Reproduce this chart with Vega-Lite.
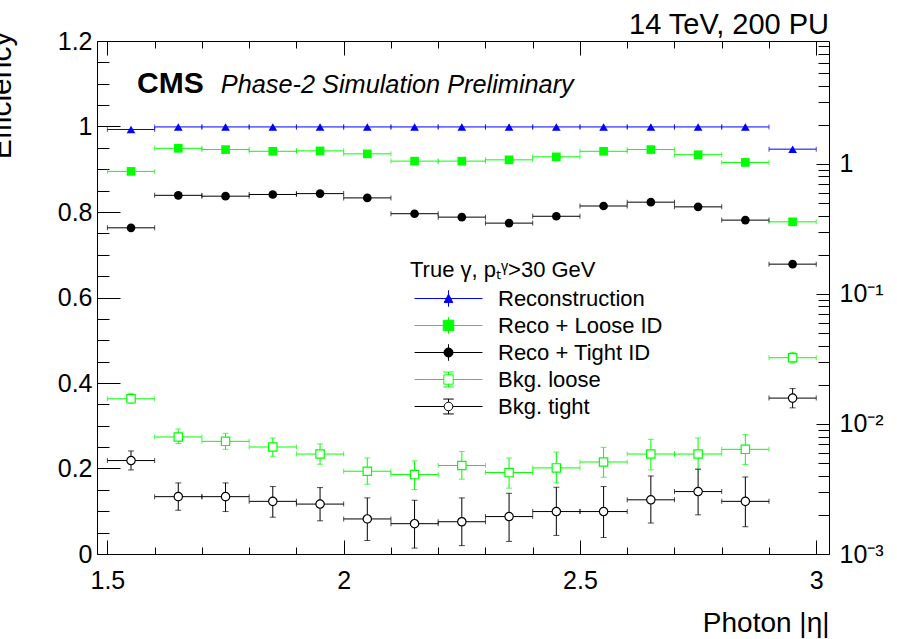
{
  "$schema": "https://vega.github.io/schema/vega-lite/v6.json",
  "width": 732,
  "height": 513,
  "autosize": {"type": "none"},
  "padding": {"left": 97, "top": 41, "right": 68, "bottom": 85},
  "background": "white",
  "config": {
    "font": "Liberation Sans",
    "view": {"stroke": "black", "strokeWidth": 1},
    "axis": {"grid": false, "domain": false, "tickColor": "black", "labelColor": "black", "titleColor": "black", "labelFont": "Liberation Sans", "titleFont": "Liberation Sans", "tickWidth": 1, "labelFlush": false, "labelOverlap": false},
    "legend": {"labelFont": "Liberation Sans", "titleFont": "Liberation Sans", "labelColor": "black", "titleColor": "black"}
  },
  "datasets": {
    "d": [
      {"s": "Reconstruction", "eta": 1.55, "x0": 1.5, "x1": 1.6, "v": 0.993},
      {"s": "Reconstruction", "eta": 1.65, "x0": 1.6, "x1": 1.7, "v": 0.999},
      {"s": "Reconstruction", "eta": 1.75, "x0": 1.7, "x1": 1.8, "v": 0.999},
      {"s": "Reconstruction", "eta": 1.85, "x0": 1.8, "x1": 1.9, "v": 0.999},
      {"s": "Reconstruction", "eta": 1.95, "x0": 1.9, "x1": 2.0, "v": 0.999},
      {"s": "Reconstruction", "eta": 2.05, "x0": 2.0, "x1": 2.1, "v": 0.999},
      {"s": "Reconstruction", "eta": 2.15, "x0": 2.1, "x1": 2.2, "v": 0.999},
      {"s": "Reconstruction", "eta": 2.25, "x0": 2.2, "x1": 2.3, "v": 0.999},
      {"s": "Reconstruction", "eta": 2.35, "x0": 2.3, "x1": 2.4, "v": 0.999},
      {"s": "Reconstruction", "eta": 2.45, "x0": 2.4, "x1": 2.5, "v": 0.999},
      {"s": "Reconstruction", "eta": 2.55, "x0": 2.5, "x1": 2.6, "v": 0.999},
      {"s": "Reconstruction", "eta": 2.65, "x0": 2.6, "x1": 2.7, "v": 0.999},
      {"s": "Reconstruction", "eta": 2.75, "x0": 2.7, "x1": 2.8, "v": 0.999},
      {"s": "Reconstruction", "eta": 2.85, "x0": 2.8, "x1": 2.9, "v": 0.999},
      {"s": "Reconstruction", "eta": 2.95, "x0": 2.9, "x1": 3.0, "v": 0.947},
      {"s": "Reco + Loose ID", "eta": 1.55, "x0": 1.5, "x1": 1.6, "v": 0.895},
      {"s": "Reco + Loose ID", "eta": 1.65, "x0": 1.6, "x1": 1.7, "v": 0.949},
      {"s": "Reco + Loose ID", "eta": 1.75, "x0": 1.7, "x1": 1.8, "v": 0.946},
      {"s": "Reco + Loose ID", "eta": 1.85, "x0": 1.8, "x1": 1.9, "v": 0.942},
      {"s": "Reco + Loose ID", "eta": 1.95, "x0": 1.9, "x1": 2.0, "v": 0.943},
      {"s": "Reco + Loose ID", "eta": 2.05, "x0": 2.0, "x1": 2.1, "v": 0.936},
      {"s": "Reco + Loose ID", "eta": 2.15, "x0": 2.1, "x1": 2.2, "v": 0.919},
      {"s": "Reco + Loose ID", "eta": 2.25, "x0": 2.2, "x1": 2.3, "v": 0.919},
      {"s": "Reco + Loose ID", "eta": 2.35, "x0": 2.3, "x1": 2.4, "v": 0.922},
      {"s": "Reco + Loose ID", "eta": 2.45, "x0": 2.4, "x1": 2.5, "v": 0.929},
      {"s": "Reco + Loose ID", "eta": 2.55, "x0": 2.5, "x1": 2.6, "v": 0.942},
      {"s": "Reco + Loose ID", "eta": 2.65, "x0": 2.6, "x1": 2.7, "v": 0.946},
      {"s": "Reco + Loose ID", "eta": 2.75, "x0": 2.7, "x1": 2.8, "v": 0.934},
      {"s": "Reco + Loose ID", "eta": 2.85, "x0": 2.8, "x1": 2.9, "v": 0.916},
      {"s": "Reco + Loose ID", "eta": 2.95, "x0": 2.9, "x1": 3.0, "v": 0.777},
      {"s": "Reco + Tight ID", "eta": 1.55, "x0": 1.5, "x1": 1.6, "v": 0.763},
      {"s": "Reco + Tight ID", "eta": 1.65, "x0": 1.6, "x1": 1.7, "v": 0.839},
      {"s": "Reco + Tight ID", "eta": 1.75, "x0": 1.7, "x1": 1.8, "v": 0.837},
      {"s": "Reco + Tight ID", "eta": 1.85, "x0": 1.8, "x1": 1.9, "v": 0.841},
      {"s": "Reco + Tight ID", "eta": 1.95, "x0": 1.9, "x1": 2.0, "v": 0.843},
      {"s": "Reco + Tight ID", "eta": 2.05, "x0": 2.0, "x1": 2.1, "v": 0.833},
      {"s": "Reco + Tight ID", "eta": 2.15, "x0": 2.1, "x1": 2.2, "v": 0.796},
      {"s": "Reco + Tight ID", "eta": 2.25, "x0": 2.2, "x1": 2.3, "v": 0.788},
      {"s": "Reco + Tight ID", "eta": 2.35, "x0": 2.3, "x1": 2.4, "v": 0.774},
      {"s": "Reco + Tight ID", "eta": 2.45, "x0": 2.4, "x1": 2.5, "v": 0.790},
      {"s": "Reco + Tight ID", "eta": 2.55, "x0": 2.5, "x1": 2.6, "v": 0.814},
      {"s": "Reco + Tight ID", "eta": 2.65, "x0": 2.6, "x1": 2.7, "v": 0.823},
      {"s": "Reco + Tight ID", "eta": 2.75, "x0": 2.7, "x1": 2.8, "v": 0.812},
      {"s": "Reco + Tight ID", "eta": 2.85, "x0": 2.8, "x1": 2.9, "v": 0.781},
      {"s": "Reco + Tight ID", "eta": 2.95, "x0": 2.9, "x1": 3.0, "v": 0.678},
      {"s": "Bkg. loose", "eta": 1.55, "x0": 1.5, "x1": 1.6, "v": 0.0156, "lo": 0.0144, "hi": 0.0172},
      {"s": "Bkg. loose", "eta": 1.65, "x0": 1.6, "x1": 1.7, "v": 0.00794, "lo": 0.00706, "hi": 0.00914},
      {"s": "Bkg. loose", "eta": 1.75, "x0": 1.7, "x1": 1.8, "v": 0.00735, "lo": 0.00638, "hi": 0.00847},
      {"s": "Bkg. loose", "eta": 1.85, "x0": 1.8, "x1": 1.9, "v": 0.00665, "lo": 0.00564, "hi": 0.0078},
      {"s": "Bkg. loose", "eta": 1.95, "x0": 1.9, "x1": 2.0, "v": 0.00587, "lo": 0.0049, "hi": 0.00701},
      {"s": "Bkg. loose", "eta": 2.05, "x0": 2.0, "x1": 2.1, "v": 0.00433, "lo": 0.00344, "hi": 0.00547},
      {"s": "Bkg. loose", "eta": 2.15, "x0": 2.1, "x1": 2.2, "v": 0.00408, "lo": 0.00313, "hi": 0.0052},
      {"s": "Bkg. loose", "eta": 2.25, "x0": 2.2, "x1": 2.3, "v": 0.00479, "lo": 0.00376, "hi": 0.00613},
      {"s": "Bkg. loose", "eta": 2.35, "x0": 2.3, "x1": 2.4, "v": 0.00423, "lo": 0.00321, "hi": 0.00547},
      {"s": "Bkg. loose", "eta": 2.45, "x0": 2.4, "x1": 2.5, "v": 0.00459, "lo": 0.00352, "hi": 0.00608},
      {"s": "Bkg. loose", "eta": 2.55, "x0": 2.5, "x1": 2.6, "v": 0.0051, "lo": 0.00389, "hi": 0.00661},
      {"s": "Bkg. loose", "eta": 2.65, "x0": 2.6, "x1": 2.7, "v": 0.00587, "lo": 0.00443, "hi": 0.00762},
      {"s": "Bkg. loose", "eta": 2.75, "x0": 2.7, "x1": 2.8, "v": 0.00587, "lo": 0.00449, "hi": 0.0078},
      {"s": "Bkg. loose", "eta": 2.85, "x0": 2.8, "x1": 2.9, "v": 0.00638, "lo": 0.00488, "hi": 0.00828},
      {"s": "Bkg. loose", "eta": 2.95, "x0": 2.9, "x1": 3.0, "v": 0.0323, "lo": 0.0296, "hi": 0.0355},
      {"s": "Bkg. tight", "eta": 1.55, "x0": 1.5, "x1": 1.6, "v": 0.00523, "lo": 0.00443, "hi": 0.0062},
      {"s": "Bkg. tight", "eta": 1.65, "x0": 1.6, "x1": 1.7, "v": 0.00276, "lo": 0.00217, "hi": 0.00352},
      {"s": "Bkg. tight", "eta": 1.75, "x0": 1.7, "x1": 1.8, "v": 0.00276, "lo": 0.00212, "hi": 0.00352},
      {"s": "Bkg. tight", "eta": 1.85, "x0": 1.8, "x1": 1.9, "v": 0.00254, "lo": 0.00192, "hi": 0.0033},
      {"s": "Bkg. tight", "eta": 1.95, "x0": 1.9, "x1": 2.0, "v": 0.00242, "lo": 0.0018, "hi": 0.00324},
      {"s": "Bkg. tight", "eta": 2.05, "x0": 2.0, "x1": 2.1, "v": 0.00186, "lo": 0.00127, "hi": 0.0027},
      {"s": "Bkg. tight", "eta": 2.15, "x0": 2.1, "x1": 2.2, "v": 0.00171, "lo": 0.00111, "hi": 0.00259},
      {"s": "Bkg. tight", "eta": 2.25, "x0": 2.2, "x1": 2.3, "v": 0.00177, "lo": 0.00116, "hi": 0.0027},
      {"s": "Bkg. tight", "eta": 2.35, "x0": 2.3, "x1": 2.4, "v": 0.00194, "lo": 0.00125, "hi": 0.00293},
      {"s": "Bkg. tight", "eta": 2.45, "x0": 2.4, "x1": 2.5, "v": 0.00212, "lo": 0.00139, "hi": 0.00326},
      {"s": "Bkg. tight", "eta": 2.55, "x0": 2.5, "x1": 2.6, "v": 0.00212, "lo": 0.00134, "hi": 0.0033},
      {"s": "Bkg. tight", "eta": 2.65, "x0": 2.6, "x1": 2.7, "v": 0.00261, "lo": 0.00173, "hi": 0.00398},
      {"s": "Bkg. tight", "eta": 2.75, "x0": 2.7, "x1": 2.8, "v": 0.00302, "lo": 0.002, "hi": 0.00449},
      {"s": "Bkg. tight", "eta": 2.85, "x0": 2.8, "x1": 2.9, "v": 0.00254, "lo": 0.00162, "hi": 0.00391},
      {"s": "Bkg. tight", "eta": 2.95, "x0": 2.9, "x1": 3.0, "v": 0.0158, "lo": 0.0133, "hi": 0.0187}
    ]
  },
  "data": {"name": "d"},
  "resolve": {
    "scale": {"y": "independent"},
    "axis": {"x": "independent", "y": "independent"}
  },
  "layer": [
    {
      "transform": [{"filter": {"field": "s", "oneOf": ["Reconstruction", "Reco + Loose ID", "Reco + Tight ID"]}}],
      "mark": {"type": "rule", "strokeWidth": 1},
      "encoding": {
        "x": {"field": "x0", "type": "quantitative", "scale": {"domain": [1.478, 3.027], "nice": false, "zero": false},
          "axis": {"orient": "bottom", "values": [1.5, 2, 2.5, 3], "format": "~g", "tickSize": -14, "labelPadding": 28, "labelFontSize": 25, "title": "Photon |η|", "titleX": 732, "titleY": 77, "titleAlign": "right", "titleBaseline": "alphabetic", "titleFontSize": 28, "titleFontWeight": "normal"}},
        "x2": {"field": "x1"},
        "y": {"field": "v", "type": "quantitative", "scale": {"domain": [0, 1.2], "nice": false, "zero": false},
          "axis": {"orient": "left", "values": [0, 0.2, 0.4, 0.6, 0.8, 1, 1.2], "format": "~g", "tickSize": -23, "labelPadding": 28, "labelFontSize": 25, "title": "Efficiency", "titleX": -87, "titleY": -10, "titleAngle": 270, "titleAlign": "right", "titleBaseline": "alphabetic", "titleFontSize": 30, "titleFontWeight": "normal"}},
        "color": {"field": "s", "type": "nominal", "legend": null,
          "scale": {"domain": ["Reco + Loose ID", "Bkg. loose", "Reconstruction", "Reco + Tight ID", "Bkg. tight"], "range": ["#00ff00", "#00ff00", "#0000ff", "#000000", "#000000"]}}
      }
    },
    {
      "transform": [
        {"filter": {"field": "s", "oneOf": ["Reconstruction", "Reco + Loose ID", "Reco + Tight ID"]}},
        {"fold": ["x0", "x1"], "as": ["k", "xe"]}
      ],
      "mark": {"type": "tick", "orient": "vertical", "size": 5, "thickness": 1},
      "encoding": {
        "x": {"field": "xe", "type": "quantitative", "scale": {"domain": [1.478, 3.027], "nice": false, "zero": false}, "axis": null},
        "y": {"field": "v", "type": "quantitative", "scale": {"domain": [0, 1.2], "nice": false, "zero": false}, "axis": null},
        "color": {"field": "s", "type": "nominal", "legend": null}
      }
    },
    {
      "transform": [{"filter": {"field": "s", "equal": "Reconstruction"}}],
      "mark": {"type": "point", "shape": "triangle-up", "filled": true, "size": 75, "opacity": 1},
      "encoding": {
        "x": {"field": "eta", "type": "quantitative", "scale": {"domain": [1.478, 3.027], "nice": false, "zero": false},
          "axis": {"orient": "bottom", "values": [1.6, 1.7, 1.8, 1.9, 2.1, 2.2, 2.3, 2.4, 2.6, 2.7, 2.8, 2.9], "tickSize": -7, "labels": false, "title": null}},
        "y": {"field": "v", "type": "quantitative", "scale": {"domain": [0, 1.2], "nice": false, "zero": false},
          "axis": {"orient": "left", "values": [0.05, 0.1, 0.15, 0.25, 0.3, 0.35, 0.45, 0.5, 0.55, 0.65, 0.7, 0.75, 0.85, 0.9, 0.95, 1.05, 1.1, 1.15], "tickSize": -12, "labels": false, "title": null}},
        "color": {"field": "s", "type": "nominal", "legend": null}
      }
    },
    {
      "transform": [{"filter": {"field": "s", "equal": "Reco + Loose ID"}}],
      "mark": {"type": "point", "shape": "square", "filled": true, "size": 75, "opacity": 1},
      "encoding": {
        "x": {"field": "eta", "type": "quantitative", "scale": {"domain": [1.478, 3.027], "nice": false, "zero": false}, "axis": null},
        "y": {"field": "v", "type": "quantitative", "scale": {"domain": [0, 1.2], "nice": false, "zero": false}, "axis": null},
        "color": {"field": "s", "type": "nominal", "legend": null}
      }
    },
    {
      "transform": [{"filter": {"field": "s", "equal": "Reco + Tight ID"}}],
      "mark": {"type": "point", "shape": "circle", "filled": true, "size": 75, "opacity": 1},
      "encoding": {
        "x": {"field": "eta", "type": "quantitative", "scale": {"domain": [1.478, 3.027], "nice": false, "zero": false}, "axis": null},
        "y": {"field": "v", "type": "quantitative", "scale": {"domain": [0, 1.2], "nice": false, "zero": false}, "axis": null},
        "color": {"field": "s", "type": "nominal", "legend": null}
      }
    },
    {
      "transform": [{"filter": {"field": "s", "oneOf": ["Bkg. loose", "Bkg. tight"]}}],
      "mark": {"type": "rule", "strokeWidth": 1},
      "encoding": {
        "x": {"field": "x0", "type": "quantitative", "scale": {"domain": [1.478, 3.027], "nice": false, "zero": false},
          "axis": {"orient": "top", "values": [1.5, 2, 2.5, 3], "tickSize": -14, "labels": false, "title": null}},
        "x2": {"field": "x1"},
        "y": {"field": "v", "type": "quantitative", "scale": {"type": "log", "domain": [0.001, 8.8], "nice": false},
          "axis": {"orient": "right", "values": [0.001, 0.01, 0.1, 1], "tickSize": -13, "labelPadding": 23, "labelFontSize": 25, "labelAlign": "left", "labelBaseline": "middle", "title": null,
            "labelExpr": "datum.value > 0.5 ? '1' : datum.value > 0.05 ? '10⁻¹' : datum.value > 0.005 ? '10⁻²' : '10⁻³'"}},
        "color": {"field": "s", "type": "nominal", "legend": null}
      }
    },
    {
      "transform": [{"filter": {"field": "s", "oneOf": ["Bkg. loose", "Bkg. tight"]}}],
      "mark": {"type": "rule", "strokeWidth": 1},
      "encoding": {
        "x": {"field": "eta", "type": "quantitative", "scale": {"domain": [1.478, 3.027], "nice": false, "zero": false}, "axis": null},
        "y": {"field": "lo", "type": "quantitative", "scale": {"type": "log", "domain": [0.001, 8.8], "nice": false}, "axis": null},
        "y2": {"field": "hi"},
        "color": {"field": "s", "type": "nominal", "legend": null}
      }
    },
    {
      "transform": [
        {"filter": {"field": "s", "oneOf": ["Bkg. loose", "Bkg. tight"]}},
        {"fold": ["x0", "x1"], "as": ["k", "xe"]}
      ],
      "mark": {"type": "tick", "orient": "vertical", "size": 5, "thickness": 1},
      "encoding": {
        "x": {"field": "xe", "type": "quantitative", "scale": {"domain": [1.478, 3.027], "nice": false, "zero": false}, "axis": null},
        "y": {"field": "v", "type": "quantitative", "scale": {"type": "log", "domain": [0.001, 8.8], "nice": false}, "axis": null},
        "color": {"field": "s", "type": "nominal", "legend": null}
      }
    },
    {
      "transform": [
        {"filter": {"field": "s", "oneOf": ["Bkg. loose", "Bkg. tight"]}},
        {"fold": ["lo", "hi"], "as": ["k", "ye"]}
      ],
      "mark": {"type": "tick", "orient": "horizontal", "size": 6, "thickness": 1},
      "encoding": {
        "x": {"field": "eta", "type": "quantitative", "scale": {"domain": [1.478, 3.027], "nice": false, "zero": false}, "axis": null},
        "y": {"field": "ye", "type": "quantitative", "scale": {"type": "log", "domain": [0.001, 8.8], "nice": false}, "axis": null},
        "color": {"field": "s", "type": "nominal", "legend": null}
      }
    },
    {
      "transform": [{"filter": {"field": "s", "equal": "Bkg. loose"}}],
      "mark": {"type": "point", "shape": "square", "filled": false, "fill": "white", "fillOpacity": 1, "opacity": 1, "size": 70, "strokeWidth": 1.2},
      "encoding": {
        "x": {"field": "eta", "type": "quantitative", "scale": {"domain": [1.478, 3.027], "nice": false, "zero": false},
          "axis": {"orient": "top", "values": [1.6, 1.7, 1.8, 1.9, 2.1, 2.2, 2.3, 2.4, 2.6, 2.7, 2.8, 2.9], "tickSize": -7, "labels": false, "title": null}},
        "y": {"field": "v", "type": "quantitative", "scale": {"type": "log", "domain": [0.001, 8.8], "nice": false},
          "axis": {"orient": "right", "values": [0.002, 0.003, 0.004, 0.005, 0.006, 0.007, 0.008, 0.009, 0.02, 0.03, 0.04, 0.05, 0.06, 0.07, 0.08, 0.09, 0.2, 0.3, 0.4, 0.5, 0.6, 0.7, 0.8, 0.9, 2, 3, 4, 5, 6, 7, 8], "tickSize": -11, "labels": false, "title": null}},
        "color": {"field": "s", "type": "nominal", "legend": null}
      }
    },
    {
      "transform": [{"filter": {"field": "s", "equal": "Bkg. tight"}}],
      "mark": {"type": "point", "shape": "circle", "filled": false, "fill": "white", "fillOpacity": 1, "opacity": 1, "size": 70, "strokeWidth": 1.2},
      "encoding": {
        "x": {"field": "eta", "type": "quantitative", "scale": {"domain": [1.478, 3.027], "nice": false, "zero": false}, "axis": null},
        "y": {"field": "v", "type": "quantitative", "scale": {"type": "log", "domain": [0.001, 8.8], "nice": false}, "axis": null},
        "color": {"field": "s", "type": "nominal", "legend": null}
      }
    },
    {
      "data": {"values": [{}]},
      "mark": {"type": "text", "text": "CMS", "font": "Liberation Sans", "fontWeight": "bold", "fontSize": 30, "align": "left", "baseline": "alphabetic", "color": "black"},
      "encoding": {
        "x": {"datum": 1.5628, "type": "quantitative", "scale": {"domain": [1.478, 3.027], "nice": false, "zero": false}, "axis": null},
        "y": {"datum": 1.079, "type": "quantitative", "scale": {"domain": [0, 1.2], "nice": false, "zero": false}, "axis": null}
      }
    },
    {
      "data": {"values": [{}]},
      "mark": {"type": "text", "text": "Phase-2 Simulation Preliminary", "font": "Liberation Sans", "fontStyle": "italic", "fontSize": 25.3, "align": "left", "baseline": "alphabetic", "color": "black"},
      "encoding": {
        "x": {"datum": 1.740, "type": "quantitative", "scale": {"domain": [1.478, 3.027], "nice": false, "zero": false}, "axis": null},
        "y": {"datum": 1.079, "type": "quantitative", "scale": {"domain": [0, 1.2], "nice": false, "zero": false}, "axis": null}
      }
    },
    {
      "data": {"values": [{}]},
      "mark": {"type": "text", "text": "14 TeV, 200 PU", "font": "Liberation Sans", "fontSize": 29, "align": "right", "baseline": "alphabetic", "color": "black"},
      "encoding": {
        "x": {"datum": 3.027, "type": "quantitative", "scale": {"domain": [1.478, 3.027], "nice": false, "zero": false}, "axis": null},
        "y": {"datum": 1.2164, "type": "quantitative", "scale": {"domain": [0, 1.2], "nice": false, "zero": false}, "axis": null}
      }
    },
    {
      "transform": [{"filter": "false"}],
      "mark": {"type": "point", "filled": false, "size": 576, "strokeWidth": 1, "opacity": 1},
      "encoding": {
        "shape": {"field": "s", "type": "nominal", "title": "True γ, pₜᵞ>30 GeV",
          "scale": {"domain": ["Reconstruction", "Reco + Loose ID", "Reco + Tight ID", "Bkg. loose", "Bkg. tight"],
            "range": [
              "M-2.83,0H2.83M0,-0.69V0.69M0,-0.36L0.36,0.34H-0.36Z",
              "M-2.83,0H2.83M0,-0.69V0.69M-0.44,-0.44H0.44V0.44H-0.44Z",
              "M-2.83,0H2.83M0,-0.69V0.69M-0.38,0A0.38,0.38,0,1,0,0.38,0A0.38,0.38,0,1,0,-0.38,0Z",
              "M-2.83,0H-0.39M0.39,0H2.83M-0.39,-0.39H0.39V0.39H-0.39ZM0,-0.39V-0.62M-0.44,-0.62H0.44M0,0.39V0.62M-0.44,0.62H0.44",
              "M-2.83,0H-0.36M0.36,0H2.83M-0.36,0A0.36,0.36,0,1,0,0.36,0A0.36,0.36,0,1,0,-0.36,0ZM0,-0.36V-0.62M-0.44,-0.62H0.44M0,0.36V0.62M-0.44,0.62H0.44"
            ]},
          "legend": {"orient": "none", "legendX": 313, "legendY": 219, "padding": 0, "titleFontSize": 22, "titleFontWeight": "normal", "titlePadding": 4, "labelFontSize": 22, "symbolSize": 576, "symbolStrokeWidth": 1, "symbolOffset": 26, "labelOffset": 37, "rowPadding": 3, "labelLimit": 300, "titleLimit": 400}},
        "stroke": {"field": "s", "type": "nominal", "title": "True γ, pₜᵞ>30 GeV",
          "scale": {"domain": ["Reconstruction", "Reco + Loose ID", "Reco + Tight ID", "Bkg. loose", "Bkg. tight"], "range": ["#0000ff", "#00ff00", "#000000", "#00ff00", "#000000"]},
          "legend": {"orient": "none", "legendX": 313, "legendY": 219, "padding": 0, "titleFontSize": 22, "titleFontWeight": "normal", "titlePadding": 4, "labelFontSize": 22, "symbolSize": 576, "symbolStrokeWidth": 1, "symbolOffset": 26, "labelOffset": 37, "rowPadding": 3, "labelLimit": 300, "titleLimit": 400}},
        "fill": {"field": "s", "type": "nominal", "title": "True γ, pₜᵞ>30 GeV",
          "scale": {"domain": ["Reconstruction", "Reco + Loose ID", "Reco + Tight ID", "Bkg. loose", "Bkg. tight"], "range": ["#0000ff", "#00ff00", "#000000", "#ffffff", "#ffffff"]},
          "legend": {"orient": "none", "legendX": 313, "legendY": 219, "padding": 0, "titleFontSize": 22, "titleFontWeight": "normal", "titlePadding": 4, "labelFontSize": 22, "symbolSize": 576, "symbolStrokeWidth": 1, "symbolOffset": 26, "labelOffset": 37, "rowPadding": 3, "labelLimit": 300, "titleLimit": 400}}
      }
    }
  ]
}
